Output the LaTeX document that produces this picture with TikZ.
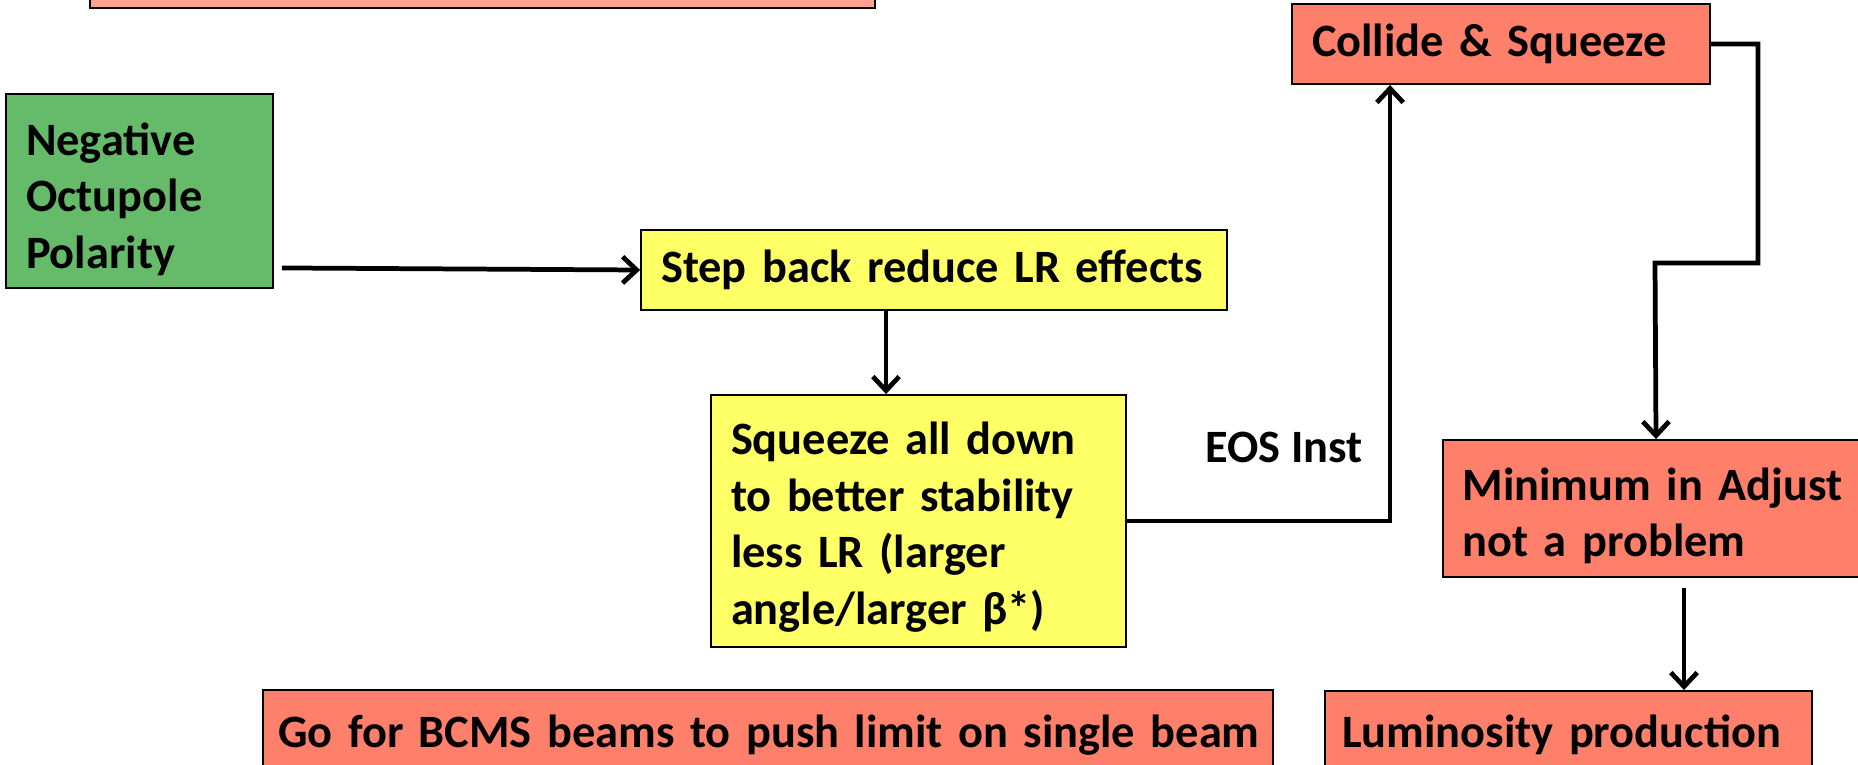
\documentclass[tikz,border=0pt]{standalone}
\usepackage{fontspec}
\setmainfont{Carlito}
\usepackage{tikz}
\usetikzlibrary{arrows.meta,positioning,calc}

\definecolor{boxred}{RGB}{255,128,106}
\definecolor{boxpink}{RGB}{255,160,144}
\definecolor{boxgreen}{RGB}{102,187,106}
\definecolor{boxyellow}{RGB}{255,255,102}

\begin{document}
\begin{tikzpicture}[x=0.02cm, y=-0.02cm,
		every node/.style={font=\bfseries\fontsize{26.4}{32.2}\selectfont},
		stepbox/.style={draw, line width=1.1pt, rectangle, align=left, inner xsep=0.4cm, inner ysep=0pt},
		arr/.style={-{Straight Barb[length=8pt, width=15pt]}, line width=2.7pt}]
			\useasboundingbox (0,0) rectangle (1858,764);
			
			% Boxes
			\node[stepbox, fill=boxpink, minimum width=15.7cm, minimum height=1.6cm] (top) at (482.5,-32) {};
			\node[stepbox, fill=boxgreen, text width=4.54cm, minimum height=3.88cm] (neg) at (139.5,191) {\rule{0pt}{0.98cm}Negative\\Octupole\\Polarity};
			\node[stepbox, fill=boxyellow, text width=10.92cm, minimum height=1.6cm] (back) at (934,270) {\mbox{Step back reduce LR effects}};
			\node[stepbox, fill=boxyellow, text width=7.5cm, minimum height=5.04cm] (squeeze) at (918.5,521) {\rule{0pt}{0.9cm}Squeeze all down\\to better stability\\less LR (larger\\angle/larger β*)};
			\node[stepbox, fill=boxred, text width=7.56cm, minimum height=1.6cm] (collide) at (1501,44) {\mbox{Collide \& Squeeze}};
			\node[stepbox, fill=boxred, text width=7.74cm, minimum height=2.74cm] (minimum) at (1656,508.5) {\rule{0pt}{0.94cm}Minimum in Adjust\\not a problem};
			\node[stepbox, fill=boxred, text width=9.06cm, inner xsep=0.34cm, minimum height=1.76cm] (lumi) at (1568.5,735) {\mbox{Luminosity production}};
			\node[stepbox, fill=boxred, text width=19.6cm, inner xsep=0.3cm, minimum height=1.8cm] (bcms) at (768,735) {\mbox{Go for BCMS beams to push limit on single beam}};
			
			% Label
			\node (eos) at (1284,447) {EOS Inst};
			
			% Connectors
			\draw[arr] ($(neg.south east)+(8,-21)$) -- (back.west);
			\draw[arr] ([xshift=-0.96cm]back.south) -- ([xshift=-0.96cm]back.south |- squeeze.north);
			\draw[arr] (squeeze.east) -| ([xshift=-2.22cm]collide.south);
			\draw[arr] (collide.east) -- ++(47,0) |- (1655,263) -- (minimum.north);
			\draw[arr] ([xshift=0.56cm,yshift=-0.2cm]minimum.south) -- ([xshift=0.56cm]minimum.south |- lumi.north);
		\end{tikzpicture}
\end{document}
